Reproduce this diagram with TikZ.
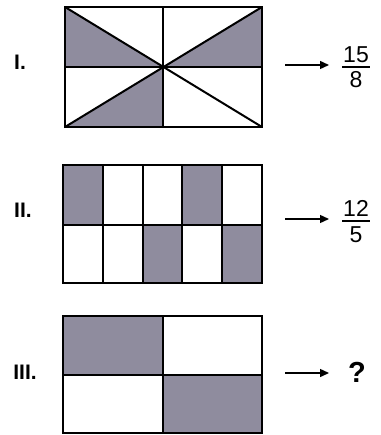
\documentclass[tikz,border=0pt]{standalone}
\usepackage{fontspec}
\setmainfont{Liberation Sans}
\usetikzlibrary{arrows.meta}
\definecolor{shade}{HTML}{8F8C9E}
\begin{document}
\begin{tikzpicture}[x=1pt,y=-1pt,
  box/.style={line width=2pt},
  fillc/.style={fill=shade},
  lbl/.style={font=\fontsize{21}{23}\selectfont\bfseries, anchor=center, inner sep=0pt},
  num/.style={font=\fontsize{23}{25}\selectfont, anchor=center, inner sep=0pt},
  arr/.style={line width=1.4pt,-{Triangle[length=9pt,width=8pt]}},
  bar/.style={line width=1.4pt}]
\useasboundingbox (0,0) rectangle (380,435);
% ---------- Panel I ----------
\coordinate (a1) at (65,7);
\coordinate (b1) at (262,127);
\fill[fillc] (65,7) -- (163,67) -- (65,67) -- cycle;
\fill[fillc] (262,7) -- (163,67) -- (262,67) -- cycle;
\fill[fillc] (65,127) -- (163,67) -- (163,127) -- cycle;
\draw[box] (a1) rectangle (b1);
\draw[box] (163,7) -- (163,127);
\draw[box] (65,67) -- (262,67);
\draw[box] (65,7) -- (262,127);
\draw[box] (262,7) -- (65,127);
\node[lbl] (l1) at (20,62) {I.};
\coordinate (s1) at (285,65);
\coordinate (e1) at (329,65);
\draw[arr] (s1) -- (e1);
\node[num] (n1) at (356,55) {15};
\node[num] (d1) at (356,80) {8};
\draw[bar] (342,67) -- (370,67);
% ---------- Panel II ----------
\fill[fillc] (63,165) rectangle (103,225);
\fill[fillc] (182,165) rectangle (222,225);
\fill[fillc] (143,225) rectangle (182,283);
\fill[fillc] (222,225) rectangle (262,283);
\draw[box] (63,165) rectangle (262,283);
\draw[box] (63,225) -- (262,225);
\foreach \x in {103,143,182,222} \draw[box] (\x,165) -- (\x,283);
\node[lbl] (l2) at (23,210) {II.};
\coordinate (s2) at (285,219);
\coordinate (e2) at (329,219);
\draw[arr] (s2) -- (e2);
\node[num] (n2) at (356,208) {12};
\node[num] (d2) at (356,235) {5};
\draw[bar] (342,221) -- (370,221);
% ---------- Panel III ----------
\fill[fillc] (63,316) rectangle (163,375);
\fill[fillc] (163,375) rectangle (262,433);
\draw[box] (63,316) rectangle (262,433);
\draw[box] (63,375) -- (262,375);
\draw[box] (163,316) -- (163,433);
\node[lbl] (l3) at (25,372) {III.};
\coordinate (s3) at (285,373);
\coordinate (e3) at (329,373);
\draw[arr] (s3) -- (e3);
\node[font=\fontsize{29}{31}\selectfont\bfseries, inner sep=0pt] (q) at (357,372) {?};
\end{tikzpicture}
\end{document}
